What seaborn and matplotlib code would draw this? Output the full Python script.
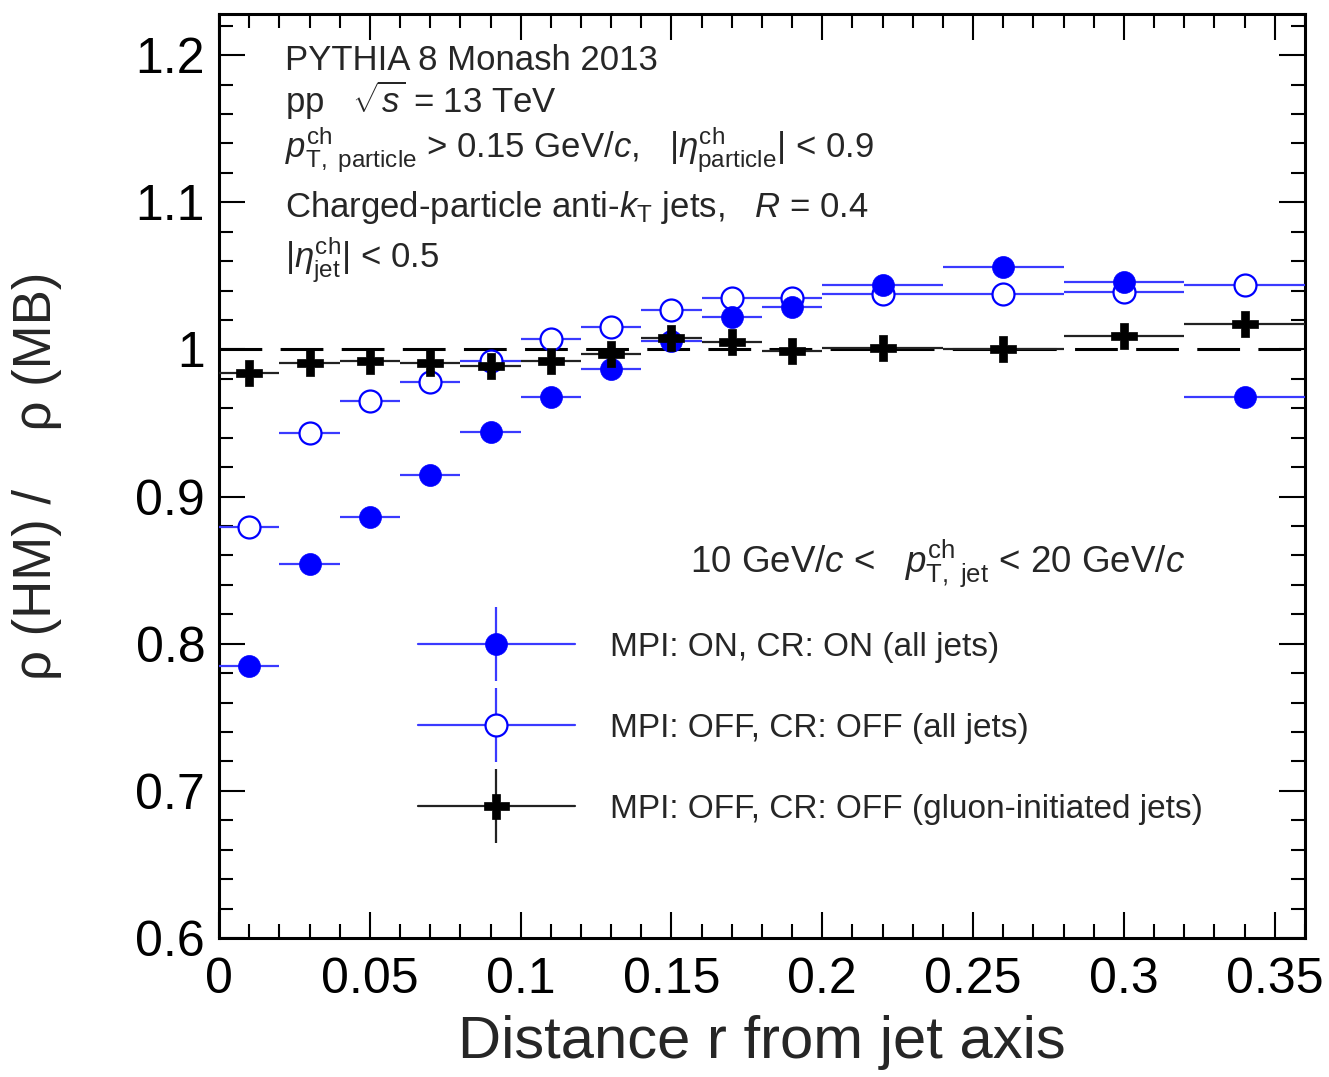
import numpy as np
import pandas as pd
import matplotlib
matplotlib.use("Agg")
import matplotlib.pyplot as plt
import seaborn as sns
from matplotlib.lines import Line2D
from matplotlib.ticker import MultipleLocator, FixedLocator, FuncFormatter

# ---------------- data ----------------
r_centers = [0.01, 0.03, 0.05, 0.07, 0.09, 0.11, 0.13, 0.15, 0.17, 0.19,
             0.22, 0.26, 0.30, 0.34]
r_halfwidth = [0.01, 0.01, 0.01, 0.01, 0.01, 0.01, 0.01, 0.01, 0.01, 0.01,
               0.02, 0.02, 0.02, 0.02]
mpi_on_all = [0.785, 0.854, 0.886, 0.915, 0.944, 0.968, 0.987, 1.006, 1.022,
              1.029, 1.044, 1.056, 1.046, 0.968]
mpi_off_all = [0.879, 0.943, 0.965, 0.978, 0.992, 1.007, 1.015, 1.027, 1.035,
               1.035, 1.038, 1.038, 1.039, 1.044]
mpi_off_gluon = [0.984, 0.991, 0.992, 0.991, 0.989, 0.992, 0.997, 1.008, 1.005,
                 0.999, 1.001, 1.000, 1.009, 1.017]

labels = ["MPI: ON, CR: ON (all jets)",
          "MPI: OFF, CR: OFF (all jets)",
          "MPI: OFF, CR: OFF (gluon-initiated jets)"]
y_ticks = [0.6, 0.7, 0.8, 0.9, 1.0, 1.1, 1.2]
x_ticks = [0, 0.05, 0.1, 0.15, 0.2, 0.25, 0.3, 0.35]

# ---------------- style ----------------
sns.set_theme(style="ticks")
plt.rcParams["font.family"] = ["Liberation Sans", "DejaVu Sans"]
plt.rcParams["mathtext.fontset"] = "custom"
plt.rcParams["mathtext.rm"] = "Liberation Sans"
plt.rcParams["mathtext.it"] = "Liberation Sans:italic"
plt.rcParams["mathtext.bf"] = "Liberation Sans:bold"

BLUE = "#0000ff"
BLUE_LINE = "#3a3aff"
BLACK_LINE = "#222222"

fig = plt.figure(figsize=(13.29, 10.77), dpi=100)
ax = fig.add_axes([0.1648, 0.1291, 0.9819 - 0.1648, 0.987 - 0.1291])

df = pd.DataFrame({"r": r_centers, "dr": r_halfwidth,
                   "on": mpi_on_all, "off": mpi_off_all, "glu": mpi_off_gluon})

# reference line
ax.axhline(1.0, color="black", lw=2.2, dashes=(14, 6), zorder=2)

# horizontal (bin width) error bars
ax.errorbar(df["r"], df["off"], xerr=df["dr"], fmt="none", ecolor=BLUE_LINE,
            elinewidth=1.6, capsize=0, zorder=3)
ax.errorbar(df["r"], df["on"], xerr=df["dr"], fmt="none", ecolor=BLUE_LINE,
            elinewidth=1.6, capsize=0, zorder=3)
ax.errorbar(df["r"], df["glu"], xerr=df["dr"], fmt="none", ecolor=BLACK_LINE,
            elinewidth=1.6, capsize=0, zorder=3)

# markers
sns.scatterplot(data=df, x="r", y="off", ax=ax, marker="o", s=250,
                facecolor="white", edgecolor=BLUE, linewidth=1.6, zorder=4, legend=False)
sns.scatterplot(data=df, x="r", y="on", ax=ax, marker="o", s=250,
                color=BLUE, edgecolor=BLUE, linewidth=0.5, zorder=5, legend=False)
sns.scatterplot(data=df, x="r", y="glu", ax=ax, marker="P", s=330,
                color="black", edgecolor="black", linewidth=0.5, zorder=6, legend=False)

# axes ranges and ticks
ax.set_xlim(0, 0.36)
ax.set_ylim(0.6, 1.228)
ax.xaxis.set_major_locator(FixedLocator(x_ticks))
ax.xaxis.set_minor_locator(MultipleLocator(0.01))
ax.yaxis.set_major_locator(FixedLocator(y_ticks))
ax.yaxis.set_minor_locator(MultipleLocator(0.02))
fmt = FuncFormatter(lambda v, p: "%g" % round(v, 3))
ax.xaxis.set_major_formatter(fmt)
ax.yaxis.set_major_formatter(fmt)
ax.tick_params(which="both", direction="in", top=True, right=True, colors="black")
ax.tick_params(which="major", length=19, width=1.5, labelsize=36)
ax.tick_params(which="minor", length=10, width=1.5)
ax.tick_params(axis="x", which="major", pad=14)
ax.tick_params(axis="y", which="major", pad=10)
for sp in ax.spines.values():
    sp.set_linewidth(2.2)
    sp.set_color("black")
    sp.set_visible(True)

ax.set_xlabel("Distance r from jet axis", fontsize=43)
ax.set_ylabel("ρ (HM) /    ρ (MB)", fontsize=38)
ax.xaxis.set_label_coords(0.5, -0.083)
ax.yaxis.set_label_coords(-0.145, 0.5)

# annotations
tx = 0.022
fs = 25
ax.text(tx, 1.1896, "PYTHIA 8 Monash 2013", fontsize=fs, va="baseline")
ax.text(tx, 1.1604, r"pp   $\sqrt{s}$ = 13 TeV", fontsize=fs, va="baseline")
ax.text(tx, 1.1298,
        r"$p_{\rm T,\ particle}^{\rm ch}$ > 0.15 GeV/$c$,   $|\eta_{\rm particle}^{\rm ch}|$ < 0.9",
        fontsize=fs, va="baseline")
ax.text(tx, 1.0897, r"Charged-particle anti-$k_{\rm T}$ jets,   $R$ = 0.4",
        fontsize=fs, va="baseline")
ax.text(tx, 1.055, r"$|\eta_{\rm jet}^{\rm ch}|$ < 0.5", fontsize=fs, va="baseline")
ax.text(0.1561, 0.8485,
        r"10 GeV/$c$ <   $p_{\rm T,\ jet}^{\rm ch}$ < 20 GeV/$c$",
        fontsize=26.5, va="baseline")

# legend
def handle(color, line_color, marker, mfc, ms, mew):
    h = Line2D([], [], color=line_color, lw=1.6)
    v = Line2D([], [], color=line_color, marker="|", ms=53, mew=1.6, ls="none")
    m = Line2D([], [], color=color, marker=marker, mfc=mfc, mec=color,
               ms=ms, mew=mew, ls="none")
    return (h, v, m)

handles = [handle(BLUE, BLUE_LINE, "o", BLUE, 15.8, 0.5),
           handle(BLUE, BLUE_LINE, "o", "white", 15.8, 1.6),
           handle("black", BLACK_LINE, "P", "black", 18, 0.5)]
leg = ax.legend(handles, labels, loc="upper left", bbox_to_anchor=(0.183, 0.331),
                frameon=False, fontsize=24, handlelength=4.72, handletextpad=1.05,
                labelspacing=1.5, borderpad=0, borderaxespad=0, numpoints=1)

fig.savefig("out.png", dpi=100)
